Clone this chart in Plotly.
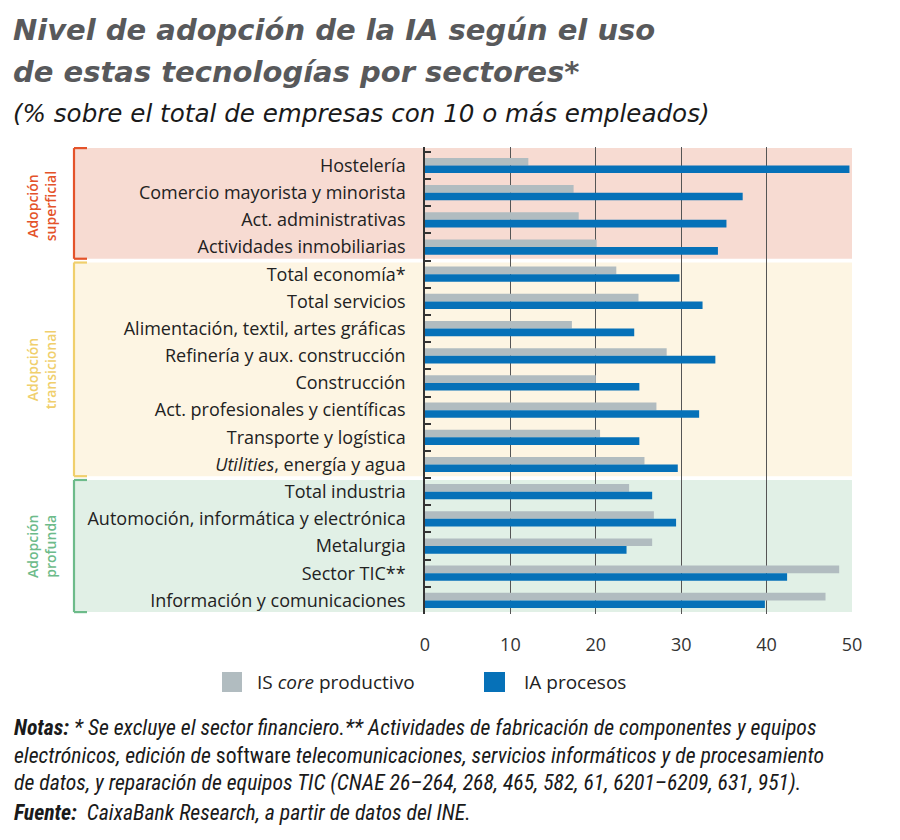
import plotly.graph_objects as go

# ---------------- data ----------------
categories = ["Hostelería", "Comercio mayorista y minorista", "Act. administrativas",
              "Actividades inmobiliarias", "Total economía*", "Total servicios",
              "Alimentación, textil, artes gráficas", "Refinería y aux. construcción",
              "Construcción", "Act. profesionales y científicas", "Transporte y logística",
              "Utilities, energía y agua", "Total industria",
              "Automoción, informática y electrónica", "Metalurgia", "Sector TIC**",
              "Información y comunicaciones"]
tick_labels = [c if c != "Utilities, energía y agua" else "<i>Utilities</i>, energía y agua"
               for c in categories]
is_core = [12.1, 17.4, 18.0, 20.1, 22.4, 25.0, 17.2, 28.3, 20.0, 27.1, 20.5, 25.7,
           23.9, 26.8, 26.6, 48.5, 46.9]
ia_procesos = [49.7, 37.2, 35.3, 34.3, 29.8, 32.5, 24.5, 34.0, 25.1, 32.1, 25.1, 29.6,
               26.6, 29.4, 23.6, 42.4, 39.8]
series_names = ["IS <i>core</i> productivo", "IA procesos"]
x_ticks = [0, 10, 20, 30, 40, 50]

group_labels = ["Adopción<br>superficial", "Adopción<br>transicional", "Adopción<br>profunda"]
group_first = [0, 4, 12]
group_last = [3, 11, 16]
group_line_colors = ["#e4532a", "#f0cf6c", "#6dbb8a"]
group_fill_colors = ["#f7dbd2", "#fdf5e3", "#e1f0e6"]

title_lines = ["Nivel de adopción de la IA según el uso", "de estas tecnologías por sectores*"]
subtitle = "(% sobre el total de empresas con 10 o más empleados)"

GRAY = "#b1bcc0"
BLUE = "#0671b8"
FONT = "'Open Sans', Lato, sans-serif"
TFONT = "'DejaVu Sans', 'Open Sans', sans-serif"
NFONT = "'Liberation Sans Narrow', 'Roboto Condensed', Roboto, sans-serif"

# ---------------- layout geometry ----------------
W, H = 900, 840
L, R, T, B = 425, 48, 147, 226
PW = W - L - R
PH = H - T - B


def px(x):
    return (x - L) / PW


def py(y):
    return (H - B - y) / PH


fig = go.Figure()
fig.add_trace(go.Bar(y=categories, x=is_core, orientation="h", name=series_names[0],
                     marker=dict(color=GRAY, line=dict(width=0)), showlegend=False))
fig.add_trace(go.Bar(y=categories, x=ia_procesos, orientation="h", name=series_names[1],
                     marker=dict(color=BLUE, line=dict(width=0)), showlegend=False))

shapes = []
annotations = []
gap = 0.07
for i in range(3):
    y0 = group_first[i] - 0.5 + (gap if i > 0 else -0.14)
    y1 = group_last[i] + 0.5 - (gap if i < 2 else 0.07)
    shapes.append(dict(type="rect", xref="paper", yref="y", x0=px(73), x1=1.0,
                       y0=y0, y1=y1, fillcolor=group_fill_colors[i],
                       line=dict(width=0), layer="below"))
    c = group_line_colors[i]
    shapes.append(dict(type="line", xref="paper", yref="y", x0=px(74), x1=px(74),
                       y0=y0, y1=y1, line=dict(color=c, width=2.2), layer="above"))
    shapes.append(dict(type="line", xref="paper", yref="y", x0=px(74), x1=px(87),
                       y0=y0, y1=y0, line=dict(color=c, width=2.2), layer="above"))
    shapes.append(dict(type="line", xref="paper", yref="y", x0=px(74), x1=px(87),
                       y0=y1, y1=y1, line=dict(color=c, width=2.2), layer="above"))
    annotations.append(dict(xref="paper", yref="y", x=px(41),
                            y=(group_first[i] + group_last[i]) / 2,
                            xanchor="center", yanchor="middle",
                            text=group_labels[i], textangle=-90, showarrow=False,
                            font=dict(family=FONT, size=14, color=c, weight=600),
                            align="center"))

# Title / subtitle
for t, yy in zip(title_lines, [30, 72]):
    annotations.append(dict(xref="paper", yref="paper", x=px(11), y=py(yy), xanchor="left",
                            yanchor="middle", align="left", showarrow=False,
                            text="<b><i>" + t + "</i></b>",
                            font=dict(family=TFONT, size=29, color="#58595b")))
annotations.append(dict(xref="paper", yref="paper", x=px(11), y=py(114), xanchor="left",
                        yanchor="middle", align="left", showarrow=False,
                        text="<i>" + subtitle + "</i>",
                        font=dict(family=TFONT, size=24.6, color="#1a1a1a")))

# Legend
shapes.append(dict(type="rect", xref="paper", yref="paper", x0=px(222), x1=px(242),
                   y0=py(672), y1=py(692), fillcolor=GRAY, line=dict(width=0)))
shapes.append(dict(type="rect", xref="paper", yref="paper", x0=px(484), x1=px(505),
                   y0=py(672), y1=py(692), fillcolor=BLUE, line=dict(width=0)))
annotations.append(dict(xref="paper", yref="paper", x=px(255), y=py(682), xanchor="left",
                        yanchor="middle", showarrow=False, text=series_names[0],
                        font=dict(family=FONT, size=19, color="#222")))
annotations.append(dict(xref="paper", yref="paper", x=px(522), y=py(682), xanchor="left",
                        yanchor="middle", showarrow=False, text=series_names[1],
                        font=dict(family=FONT, size=19, color="#222")))

# Notes
note_lines = [
    "<b><i>Notas:</i></b><i> * Se excluye el sector financiero.** Actividades de fabricación de componentes y equipos</i>",
    "<i>electrónicos, edición de </i>software<i> telecomunicaciones, servicios informáticos y de procesamiento</i>",
    "<i>de datos, y reparación de equipos TIC (CNAE 26–264, 268, 465, 582, 61, 6201–6209, 631, 951).</i>",
    "<b><i>Fuente:</i></b><i>  CaixaBank Research, a partir de datos del INE.</i>",
]
note_y = [727, 755, 783, 812]
for t, yy in zip(note_lines, note_y):
    annotations.append(dict(xref="paper", yref="paper", x=px(12), y=py(yy), xanchor="left",
                            yanchor="middle", showarrow=False, text=t, align="left",
                            font=dict(family=NFONT, size=21.7, color="#1a1a1a")))

fig.update_layout(
    width=W, height=H,
    margin=dict(l=L, r=R, t=T, b=B, pad=0),
    paper_bgcolor="white", plot_bgcolor="rgba(0,0,0,0)",
    barmode="group", bargap=0.44, bargroupgap=0,
    shapes=shapes, annotations=annotations,
    font=dict(family=FONT, color="#222"),
)
fig.update_xaxes(range=[0, 50], tickvals=x_ticks, showgrid=True, gridcolor="#555",
                 gridwidth=1, zeroline=False, showline=False, ticks="outside",
                 ticklen=14, tickcolor="rgba(0,0,0,0)",
                 tickfont=dict(family=FONT, size=18, color="#333"))
fig.update_yaxes(type="category", autorange="reversed", tickvals=categories,
                 ticktext=tick_labels, showgrid=False, showline=True, linecolor="#333",
                 linewidth=1.5, ticks="inside", tickson="boundaries", ticklen=6,
                 tickcolor="#333", tickwidth=2, ticklabelstandoff=14,
                 tickfont=dict(family=FONT, size=18, color="#222"))

fig.write_html("out.html")
